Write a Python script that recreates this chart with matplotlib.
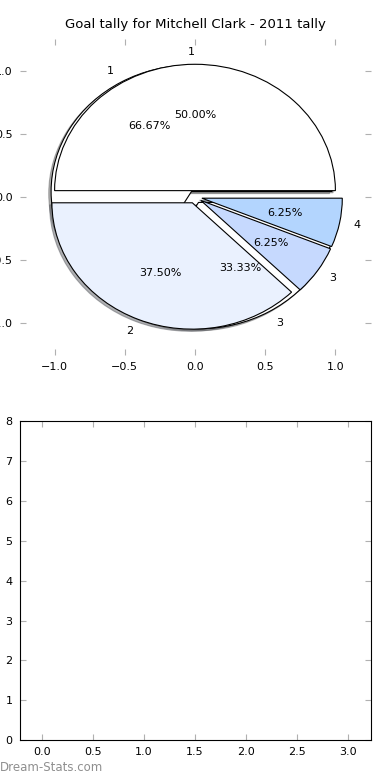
import matplotlib.pyplot as plt

# goals per game (first pie) and goal counts (second pie)
tally_a = [2, 1]
labels_a = ["1", "3"]
tally_b = [8, 6, 1, 1]
labels_b = ["1", "2", "3", "4"]
colors_b = ["#ffffff", "#eaf1fe", "#c6d9fe", "#b3d5fe"]

x_ticks = [0.0, 0.5, 1.0, 1.5, 2.0, 2.5, 3.0]
y_ticks = [0, 1, 2, 3, 4, 5, 6, 7, 8]

plt.rcParams["font.family"] = "DejaVu Sans"
plt.rcParams["patch.linewidth"] = 0.8

fig = plt.figure(figsize=(3.9, 7.8), dpi=100)


def old_ticks(ax):
    ax.tick_params(direction="in", length=4, color="#b0b0b0", labelsize=8,
                   top=True, right=True, pad=5)


shadow = {"ox": -0.012, "oy": -0.012, "shade": 0.6}
wedge_style = {"edgecolor": "black", "linewidth": 0.8}

# top: the pie chart
ax1 = fig.add_axes([0.05, 0.545, 0.9, 0.405])
ax1.pie(tally_a, labels=labels_a, colors=["white", "white"],
        explode=[0.05] * len(tally_a), autopct="%.2f%%", shadow=shadow,
        textprops={"fontsize": 8}, wedgeprops=wedge_style)
ax1.pie(tally_b, labels=labels_b, colors=colors_b,
        explode=[0.05] * len(tally_b), autopct="%.2f%%", shadow=shadow,
        textprops={"fontsize": 8}, wedgeprops=wedge_style)
ax1.set_aspect("auto")
ax1.set_xlim(-1.25, 1.25)
ax1.set_ylim(-1.25, 1.25)
ax1.set_xticks([-1.0, -0.5, 0.0, 0.5, 1.0])
ax1.set_yticks([-1.0, -0.5, 0.0, 0.5, 1.0])
ax1.set_frame_on(False)
old_ticks(ax1)
ax1.set_title("Goal tally for Mitchell Clark - 2011 tally", fontsize=9.5, pad=8)

# bottom: empty axes
ax2 = fig.add_axes([0.05, 0.051, 0.9, 0.409])
ax2.set_xlim(-0.22, 3.22)
ax2.set_ylim(0, 8)
ax2.set_xticks(x_ticks)
ax2.set_yticks(y_ticks)
old_ticks(ax2)

fig.text(0.0, 0.008, "Dream-Stats.com", fontsize=8.5, color="#8f8f8f",
         ha="left", va="bottom")

fig.savefig("out.png", dpi=100)
